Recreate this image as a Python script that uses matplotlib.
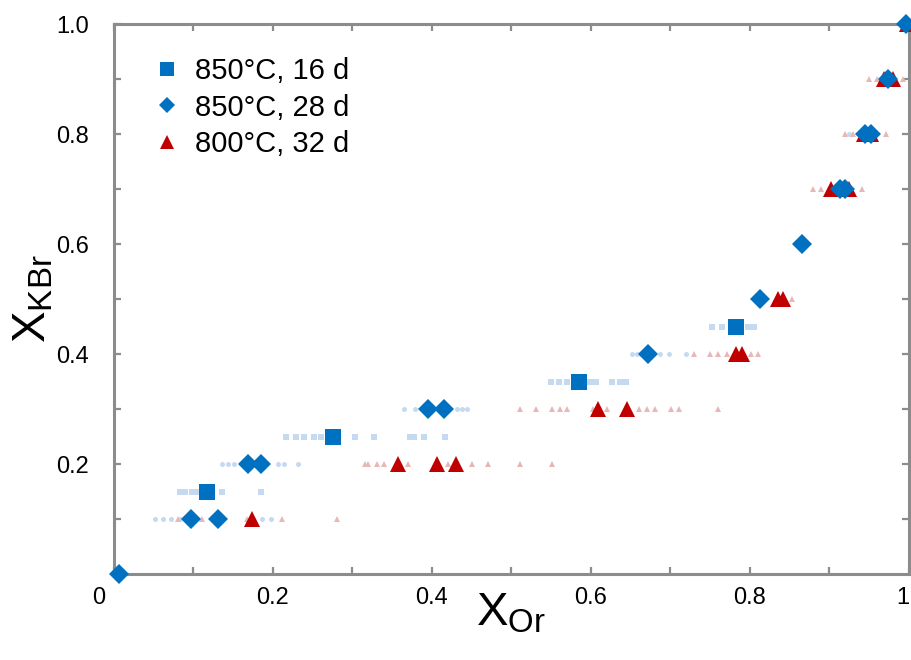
import matplotlib.pyplot as plt
from matplotlib.lines import Line2D
from matplotlib.transforms import ScaledTranslation

plt.rcParams['font.family'] = ['Liberation Sans', 'DejaVu Sans']
plt.rcParams['mathtext.fontset'] = 'custom'
plt.rcParams['mathtext.rm'] = 'Liberation Sans'

# main points
sq16_x = [0.118, 0.276, 0.585, 0.782]
sq16_y = [0.15, 0.25, 0.35, 0.45]

dia28_x = [0.007, 0.097, 0.131, 0.169, 0.185, 0.395, 0.416, 0.672, 0.813,
           0.866, 0.913, 0.920, 0.945, 0.952, 0.974, 0.996]
dia28_y = [0.0, 0.1, 0.1, 0.2, 0.2, 0.3, 0.3, 0.4, 0.5,
           0.6, 0.7, 0.7, 0.8, 0.8, 0.9, 1.0]

tri32_x = [0.174, 0.358, 0.407, 0.430, 0.609, 0.646, 0.782, 0.790, 0.835,
           0.841, 0.902, 0.924, 0.944, 0.952, 0.969, 0.980, 0.997]
tri32_y = [0.1, 0.2, 0.2, 0.2, 0.3, 0.3, 0.4, 0.4, 0.5,
           0.5, 0.7, 0.7, 0.8, 0.8, 0.9, 0.9, 1.0]

# individual analyses (faint)
f16_x = [0.083, 0.090, 0.099, 0.106, 0.137, 0.186,
         0.217, 0.229, 0.239, 0.252, 0.261, 0.304, 0.327, 0.373, 0.378, 0.390, 0.417,
         0.550, 0.560, 0.570, 0.599, 0.607, 0.627, 0.637, 0.644,
         0.752, 0.765, 0.798, 0.805]
f16_y = [0.15] * 6 + [0.25] * 11 + [0.35] * 8 + [0.45] * 4

f28_x = [0.052, 0.062, 0.072, 0.084, 0.187, 0.198,
         0.136, 0.144, 0.151, 0.207, 0.214, 0.232,
         0.365, 0.379, 0.432, 0.438, 0.444,
         0.652, 0.658, 0.663, 0.687, 0.698, 0.720,
         0.925]
f28_y = [0.1] * 6 + [0.2] * 6 + [0.3] * 5 + [0.4] * 6 + [0.8]

f32_x = [0.081, 0.111, 0.168, 0.212, 0.281,
         0.316, 0.320, 0.331, 0.340, 0.370, 0.420, 0.451, 0.471, 0.511, 0.551,
         0.511, 0.531, 0.551, 0.561, 0.570, 0.603, 0.620, 0.661, 0.671, 0.681, 0.701, 0.711, 0.760,
         0.730, 0.750, 0.760, 0.771, 0.801, 0.810,
         0.853,
         0.879, 0.890, 0.941,
         0.920, 0.930, 0.971,
         0.950, 0.960, 0.992]
f32_y = ([0.1] * 5 + [0.2] * 10 + [0.3] * 13 + [0.4] * 6 + [0.5]
         + [0.7] * 3 + [0.8] * 3 + [0.9] * 3)

labels = ['850°C, 16 d', '850°C, 28 d', '800°C, 32 d']
blue = '#0070c0'
red = '#c00000'
light_blue = '#c5d9f1'
light_red = '#e6b8b7'

fig = plt.figure(figsize=(9.11, 6.6), dpi=100)
ax = fig.add_axes([0.1246, 0.1303, 0.8732, 0.8333])

# faint individual analyses
ax.plot(f16_x, f16_y, 's', color=light_blue, ms=3.8, mew=0, clip_on=False, zorder=2)
ax.plot(f28_x, f28_y, 'o', color=light_blue, ms=3.6, mew=0, clip_on=False, zorder=2)
ax.plot(f32_x, f32_y, '^', color=light_red, ms=4.2, mew=0, clip_on=False, zorder=2)

# averages
ax.plot(sq16_x, sq16_y, 's', color=blue, ms=11.5, mew=0, clip_on=False, zorder=3)
ax.plot(tri32_x, tri32_y, '^', color=red, ms=11.5, mew=0, clip_on=False, zorder=3)
ax.plot(dia28_x, dia28_y, 'D', color=blue, ms=10, mew=0, clip_on=False, zorder=4)

ax.set_xlim(0, 1)
ax.set_ylim(0, 1)
ax.set_xticks([0, 0.2, 0.4, 0.6, 0.8, 1.0])
ax.set_xticklabels(['0', '0.2', '0.4', '0.6', '0.8', '1'])
ax.set_yticks([0.2, 0.4, 0.6, 0.8, 1.0])
ax.set_yticklabels(['0.2', '0.4', '0.6', '0.8', '1.0'])
ax.set_xticks([0.1, 0.3, 0.5, 0.7, 0.9], minor=True)
ax.set_yticks([0.1, 0.3, 0.5, 0.7, 0.9], minor=True)

for s in ax.spines.values():
    s.set_color('#8c8c8c')
    s.set_linewidth(2.2)
ax.tick_params(which='both', direction='in', top=True, right=True,
               color='#8c8c8c', width=1.6, length=5, labelsize=17)
ax.tick_params(axis='x', pad=9)
ax.tick_params(axis='y', pad=18)

# end labels sit a little to the left, as in the original
xlabs = ax.get_xticklabels()
xlabs[0].set_transform(xlabs[0].get_transform() + ScaledTranslation(-0.15, 0, fig.dpi_scale_trans))
xlabs[-1].set_transform(xlabs[-1].get_transform() + ScaledTranslation(-0.06, 0, fig.dpi_scale_trans))

ax.set_xlabel(r'$\mathrm{X}_{\mathrm{Or}}$', fontsize=34, labelpad=-12)
ax.set_ylabel(r'$\mathrm{X}_{\mathrm{KBr}}$', fontsize=34, labelpad=0)

handles = [
    Line2D([], [], marker='s', color=blue, ls='none', ms=10, mew=0),
    Line2D([], [], marker='D', color=blue, ls='none', ms=8, mew=0),
    Line2D([], [], marker='^', color=red, ls='none', ms=10, mew=0),
]
ax.legend(handles, labels, loc='upper left', bbox_to_anchor=(0.027, 0.967),
          frameon=False, fontsize=21, handletextpad=0.35, labelspacing=0.3,
          borderpad=0, handlelength=1.2)

plt.savefig('out.png', dpi=100)
